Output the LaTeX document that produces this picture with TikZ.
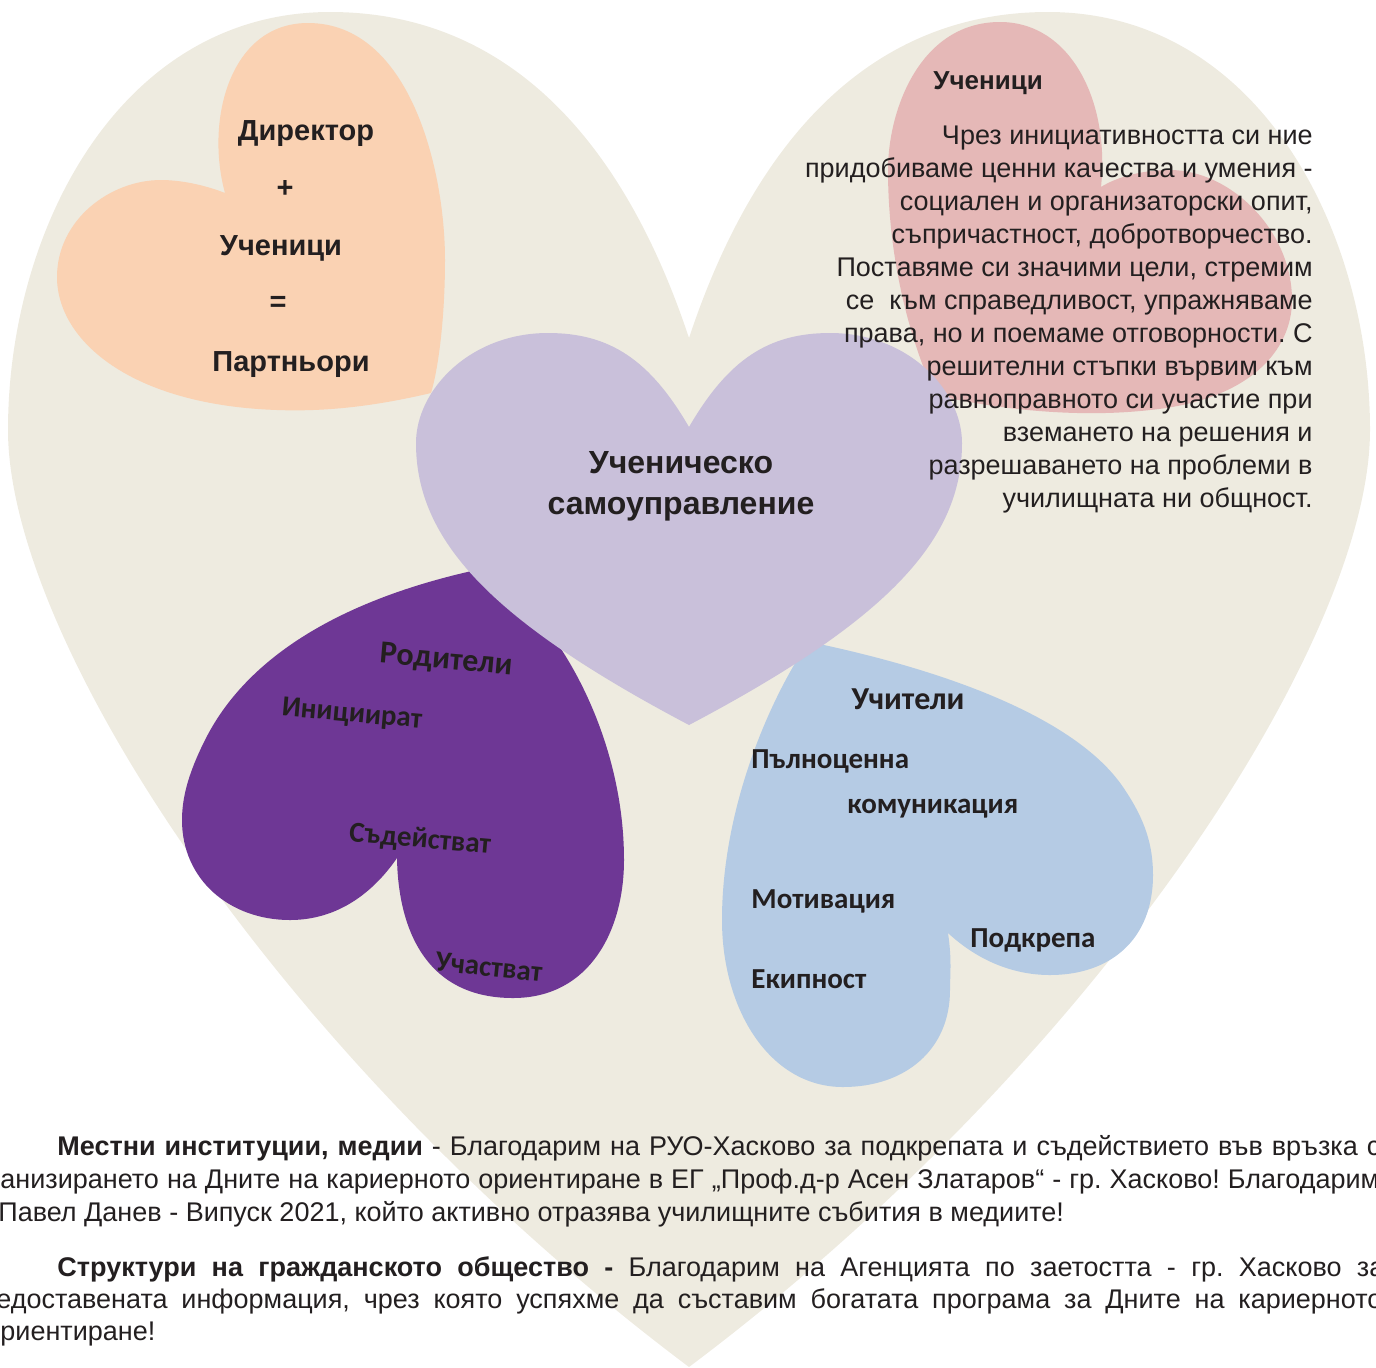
\documentclass[tikz,border=0pt]{standalone}
\usepackage{fontspec}
\setmainfont{Liberation Sans}
\newfontfamily\calibfont{Carlito}
\usepackage{xcolor}
\usepackage{tikz}
\definecolor{beige}{HTML}{EEEBE0}
\definecolor{peach}{HTML}{FAD2B3}
\definecolor{rose}{HTML}{E5B8B7}
\definecolor{lilac}{HTML}{C9C0DA}
\definecolor{plum}{HTML}{6E3795}
\definecolor{sky}{HTML}{B5CBE4}
\definecolor{ink}{HTML}{231F20}
\tikzstyle{lbl} = [inner sep=0pt, text=ink, font=\bfseries\fontsize{14.5}{17}\selectfont]
\tikzstyle{tag} = [inner sep=0pt, text=ink, font=\calibfont\bfseries\fontsize{14.5}{17}\selectfont]
\tikzstyle{body} = [inner sep=0pt, anchor=base west, text=ink, font=\fontsize{13.5}{16.5}\selectfont]
\frenchspacing

\begin{document}
\begin{tikzpicture}[x=0.5pt, y=-0.5pt]
\useasboundingbox (0,0) rectangle (1376,1367);
\clip (0,0) rectangle (1376,1367);
\fill [beige] (689,338) .. controls (620,130) and (500,12) .. (330,12)
  .. controls (120,12) and (8,230) .. (8,430)
  .. controls (8,640) and (280,1060) .. (689,1367)
  .. controls (1098,1060) and (1370,640) .. (1370,430)
  .. controls (1370,230) and (1258,12) .. (1048,12)
  .. controls (878,12) and (758,130) .. (689,338) -- cycle;
\fill [peach] (225,193) .. controls (205,120) and (230,23) .. (308,23)
  .. controls (410,23) and (445,170) .. (445,260)
  .. controls (445,320) and (438,370) .. (431,393)
  .. controls (380,405) and (330,412) .. (277,410)
  .. controls (130,405) and (57,340) .. (57,277)
  .. controls (57,220) and (110,180) .. (161,180)
  .. controls (185,180) and (210,187) .. (225,193) -- cycle;
\fill [rose] (1101,187) .. controls (1110,100) and (1070,22) .. (1000,22)
  .. controls (920,22) and (888,110) .. (888,170)
  .. controls (888,260) and (910,340) .. (935,395)
  .. controls (1000,410) and (1080,418) .. (1150,410)
  .. controls (1250,400) and (1292,350) .. (1292,300)
  .. controls (1292,230) and (1230,170) .. (1170,170)
  .. controls (1140,170) and (1115,178) .. (1101,187) -- cycle;
\fill [plum] (530,560) .. controls (400,580) and (260,630) .. (205,740)
  .. controls (190,770) and (182,795) .. (182,820)
  .. controls (182,880) and (230,920) .. (290,920)
  .. controls (340,920) and (375,890) .. (397,858)
  .. controls (398,920) and (420,998) .. (513,998)
  .. controls (590,998) and (624,930) .. (624,860)
  .. controls (624,770) and (590,690) .. (555,640)
  -- (580,620) -- cycle;
\fill [sky] (800,640) .. controls (950,670) and (1080,720) .. (1125,790)
  .. controls (1145,820) and (1153,845) .. (1153,875)
  .. controls (1153,940) and (1110,975) .. (1050,975)
  .. controls (1010,975) and (975,958) .. (948,933)
  .. controls (952,960) and (950,975) .. (950,990)
  .. controls (950,1050) and (905,1087) .. (843,1087)
  .. controls (770,1087) and (722,1010) .. (722,920)
  .. controls (722,820) and (760,720) .. (800,655) -- cycle;
\fill [lilac] (689,427) .. controls (650,360) and (610,333) .. (548,333)
  .. controls (470,333) and (416,390) .. (416,443)
  .. controls (416,540) and (490,620) .. (689,725)
  .. controls (888,620) and (962,540) .. (962,443)
  .. controls (962,390) and (908,333) .. (830,333)
  .. controls (768,333) and (728,360) .. (689,427) -- cycle;
\node [lbl] (dir) at (306,134) {Директор};
\node [lbl] (plus) at (285,189) {+};
\node [lbl] (uchL) at (281,248) {Ученици};
\node [lbl] (eq) at (278,304) {=};
\node [lbl] (part) at (291,365) {Партньори};
\node [lbl, anchor=west, font=\bfseries\fontsize{13}{16}\selectfont] (uchR) at (933,83) {Ученици};
\node [lbl, anchor=north east, align=right, font=\fontsize{13.5}{16.5}\selectfont] (para) at (1313,126)
  {Чрез инициативността си ние\\ придобиваме ценни качества и умения -\\
   социален и организаторски опит,\\ съпричастност, добротворчество.\\
   Поставяме си значими цели, стремим\\ се~ към справедливост, упражняваме\\
   права, но и поемаме отговорности. С\\ решителни стъпки вървим към\\
   равноправното си участие при\\ вземането на решения и\\
   разрешаването на проблеми в\\ училищната ни общност.};
\node [lbl, font=\bfseries\fontsize{16}{19}\selectfont] (uchC) at (681,463) {Ученическо};
\node [lbl, font=\bfseries\fontsize{16}{19}\selectfont] (samo) at (681,509) {самоуправление};
\node [tag, rotate=-5, font=\calibfont\bfseries\fontsize{16}{19}\selectfont] (rod) at (446,661) {Родители};
\node [tag, rotate=-5] (ini) at (352,715) {Инициират};
\node [tag, rotate=-5] (sad) at (420,840) {Съдействат};
\node [tag, rotate=-6] (uchas) at (489,967) {Участват};
\node [tag, font=\calibfont\bfseries\fontsize{16}{19}\selectfont] (uchit) at (908,699) {Учители};
\node [tag, anchor=west] (paln) at (751,761) {Пълноценна};
\node [tag, anchor=west] (kom) at (847,809) {комуникация};
\node [tag, anchor=west] (motiv) at (751,901) {Мотивация};
\node [tag, anchor=west] (podkr) at (970,940) {Подкрепа};
\node [tag, anchor=west] (ekip) at (751,979) {Екипност};
\node [body] (l1) at (57,1155) {\makebox[661.5pt][s]{\textbf{Местни институции, медии} - Благодарим на РУО-Хасково за подкрепата и съдействието във връзка с}};
\node [body] (l2) at (0,1188) {\makebox[689.5pt][s]{анизирането на Дните на кариерното ориентиране в ЕГ „Проф.д-р Асен Златаров“ - гр. Хасково! Благодарим}};
\node [body] (l3) at (-2,1221) {Павел Данев - Випуск 2021, който активно отразява училищните събития в медиите!};
\node [body] (l4) at (57,1276) {\makebox[663.5pt][s]{\textbf{Структури на гражданското общество -} Благодарим на Агенцията по заетостта - гр. Хасково за}};
\node [body] (l5) at (-4,1308) {\makebox[693pt][s]{едоставената информация, чрез която успяхме да съставим богатата програма за Дните на кариерното}};
\node [body] (l6) at (0,1340) {риентиране!};
\end{tikzpicture}
\end{document}
